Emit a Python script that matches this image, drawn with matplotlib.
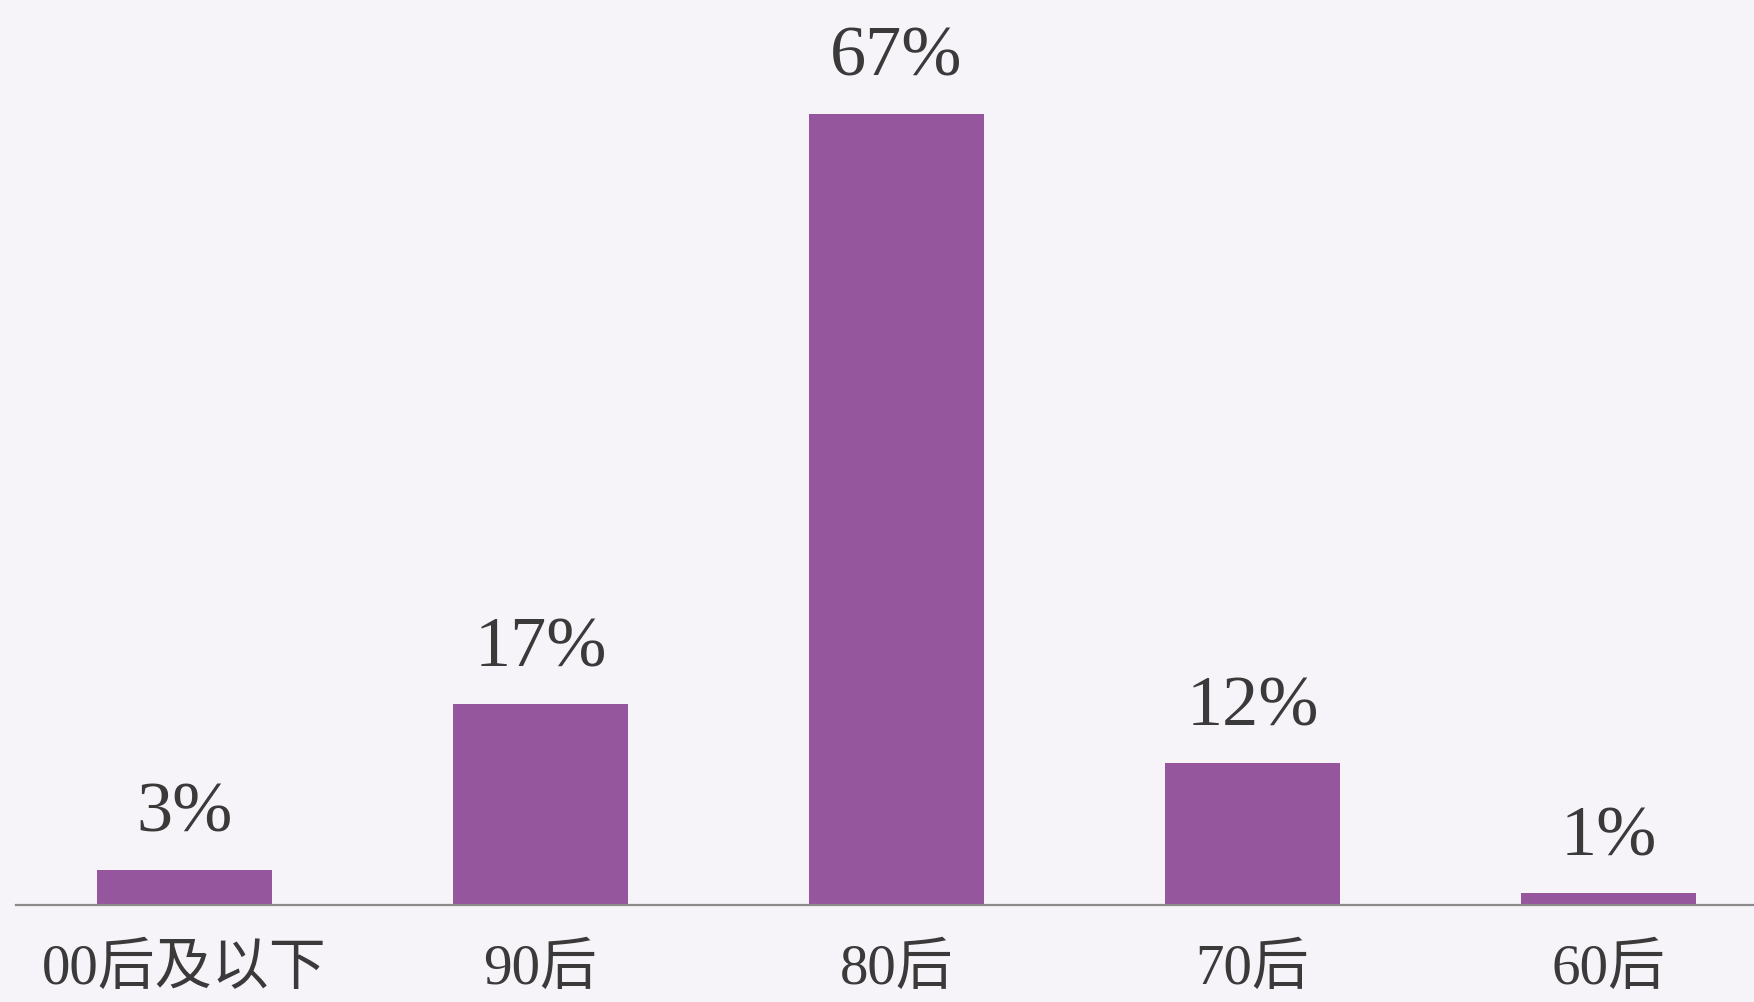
import matplotlib
matplotlib.use("Agg")
import matplotlib.pyplot as plt

categories = ["00后及以下", "90后", "80后", "70后", "60后"]
values = [3, 17, 67, 12, 1]
value_labels = ["3%", "17%", "67%", "12%", "1%"]

bar_color = "#95569D"
bg = "#F7F4F9"

fig = plt.figure(figsize=(17.54, 10.03), dpi=100, facecolor=bg)
ax = fig.add_axes([0, 0.0967, 1, 0.9033])
ax.set_facecolor(bg)

x = list(range(len(categories)))
bars = ax.bar(x, values, width=0.49, color=bar_color, zorder=2)

ax.set_xlim(-0.518, 4.409)
ax.set_ylim(0, 76.7)

# baseline
ax.plot([-0.473, 4.409], [0, 0], color="#8a8a8a", lw=1.6, zorder=3, clip_on=False)

for xi, v, lab in zip(x, values, value_labels):
    ax.annotate(lab, (xi, v), xytext=(0, 17), textcoords="offset points",
                ha="center", va="bottom", fontsize=52, color="#3a3a3a",
                family=["Liberation Serif", "DejaVu Serif"])

ax.set_xticks(x)
ax.set_xticklabels(categories, family=["Liberation Serif", "Noto Sans CJK SC"],
                   fontsize=41, color="#3a3a3a", fontweight="light")
ax.tick_params(axis="x", length=0, pad=27)
ax.set_yticks([])
for s in ax.spines.values():
    s.set_visible(False)

fig.savefig("out.png", dpi=100, facecolor=bg)
